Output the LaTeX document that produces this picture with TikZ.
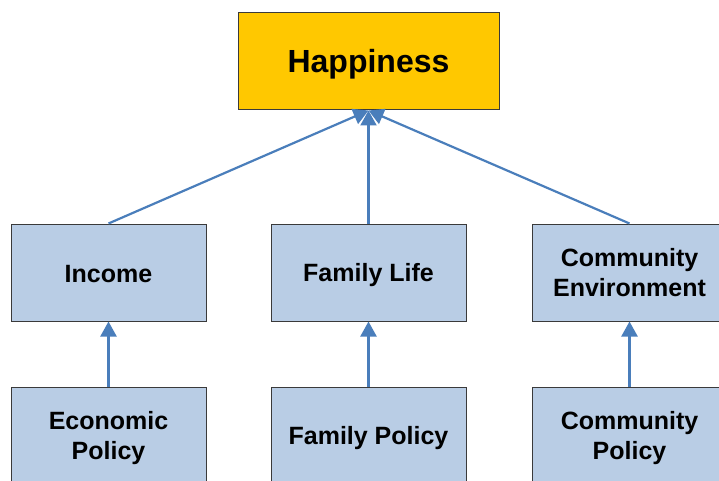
\documentclass[tikz,border=0pt]{standalone}
\usepackage{fontspec}
\setmainfont{Liberation Sans}
\usetikzlibrary{arrows.meta}
\definecolor{gold}{HTML}{FFC800}
\definecolor{boxblue}{HTML}{B9CDE5}
\definecolor{linkblue}{HTML}{4A7EBB}
\definecolor{edge}{HTML}{3A3A3A}
\tikzset{
  topbox/.style={draw=edge, line width=1pt, fill=gold, minimum width=261pt, minimum height=97pt, inner sep=0pt},
  factor/.style={draw=edge, line width=1pt, fill=boxblue, minimum width=195pt, minimum height=97pt, inner sep=0pt},
  toplbl/.style={inner sep=0pt, font=\bfseries\fontsize{32}{38}\selectfont},
  lbl/.style={inner sep=0pt, align=center, font=\bfseries\fontsize{25}{30}\selectfont},
  link/.style={draw=linkblue, line width=2.2pt, -{Triangle[width=16pt,length=15pt]}}
}
\begin{document}
\begin{tikzpicture}[x=1pt,y=1pt]
\useasboundingbox (0,0) rectangle (719,-481);
\clip (0,0) rectangle (719,-481);
\node[topbox] (hap) at (368.5,-61.5) {};
\node[factor] (inc) at (108.5,-272.5) {};
\node[factor] (fam) at (368.5,-272.5) {};
\node[factor] (com) at (629.5,-272.5) {};
\node[factor] (eco) at (108.5,-435.5) {};
\node[factor] (famp) at (368.5,-435.5) {};
\node[factor] (comp) at (629.5,-435.5) {};
\node[toplbl] (haplbl) at ([yshift=-2.5pt]hap.center) {Happiness};
\node[lbl] (inclbl) at ([yshift=-1.5pt]inc.center) {Income};
\node[lbl] (famlbl) at ([yshift=-2.5pt]fam.center) {Family Life};
\node[lbl] (comlbl) at ([yshift=-0.5pt]com.center) {Community\\Environment};
\node[lbl] (ecolbl) at ([yshift=-2.5pt]eco.center) {Economic\\Policy};
\node[lbl] (famplbl) at ([yshift=-2.5pt]famp.center) {Family Policy};
\node[lbl] (complbl) at ([yshift=-2.5pt]comp.center) {Community\\Policy};
\draw[link] (inc.north) -- (hap.south);
\draw[link] (fam.north) -- (hap.south);
\draw[link] (com.north) -- (hap.south);
\draw[link] (eco.north) -- (inc.south);
\draw[link] (famp.north) -- (fam.south);
\draw[link] (comp.north) -- (com.south);
\end{tikzpicture}
\end{document}
